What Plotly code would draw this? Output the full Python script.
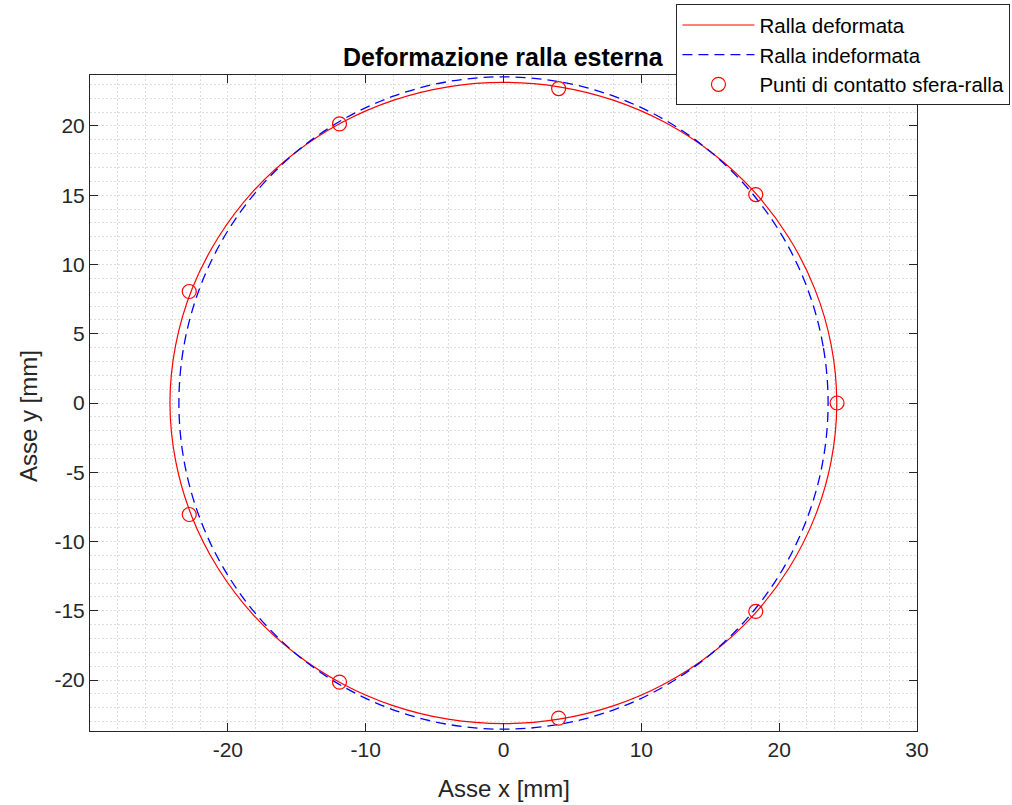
import numpy as np
import plotly.graph_objects as go

# Campionamento angolare della ralla (gradi)
angoli_deg = list(range(0, 360, 10))

# Raggio della ralla deformata a ciascun angolo [mm]
raggio_deformata = [24.18, 24.14, 24.04, 23.90, 23.74, 23.56, 23.40, 23.27, 23.18, 23.15,
                    23.18, 23.27, 23.40, 23.56, 23.74, 23.90, 24.05, 24.15, 24.20, 24.15,
                    24.05, 23.90, 23.74, 23.56, 23.40, 23.27, 23.18, 23.15, 23.18, 23.27,
                    23.40, 23.56, 23.74, 23.90, 24.04, 24.14]

# Raggio nominale della ralla indeformata [mm]
raggio_indeformata = 23.55

# Punti di contatto sfera-ralla [mm]
contatto_x = [24.2, 18.3, 4.0, -11.9, -22.8, -22.8, -11.9, 4.0, 18.3]
contatto_y = [0.0, 15.05, 22.7, 20.15, 8.05, -8.05, -20.15, -22.75, -15.05]

# Tacche degli assi
tick_x = [-20, -10, 0, 10, 20, 30]
tick_x_lab = ["-20", "-10", "0", "10", "20", "30"]
tick_y = [-20, -15, -10, -5, 0, 5, 10, 15, 20]
tick_y_lab = ["-20", "-15", "-10", "-5", "0", "5", "10", "15", "20"]

theta = np.deg2rad(angoli_deg + [360])
r_def = np.array(raggio_deformata + [raggio_deformata[0]])
x_def = r_def * np.cos(theta)
y_def = r_def * np.sin(theta)
x_ind = raggio_indeformata * np.cos(theta)
y_ind = raggio_indeformata * np.sin(theta)

FONT = "Liberation Sans, Arial, Helvetica, sans-serif"
TXT = "#262626"
GRID = "#dedede"

fig = go.Figure()
fig.add_trace(go.Scatter(
    x=x_def, y=y_def, mode="lines", name="Ralla deformata",
    line=dict(color="#ff0000", width=1.2, shape="spline", smoothing=1.0),
    legendgroup="a"))
fig.add_trace(go.Scatter(
    x=x_ind, y=y_ind, mode="lines", name="Ralla indeformata",
    line=dict(color="#0000ff", width=1.3, dash="10px,6px", shape="spline", smoothing=1.0),
    legendgroup="b"))
fig.add_trace(go.Scatter(
    x=contatto_x, y=contatto_y, mode="markers", name="Punti di contatto sfera-ralla",
    marker=dict(symbol="circle-open", size=14, color="#ff0000", line=dict(width=1.2)),
    legendgroup="c"))

grid_style = dict(showgrid=True, gridcolor=GRID, gridwidth=1, griddash="2px,2px")

fig.update_xaxes(
    range=[-30, 30], tickvals=tick_x, ticktext=tick_x_lab,
    ticks="inside", ticklen=8, tickcolor=TXT,
    showline=True, linecolor=TXT, linewidth=1, mirror="ticks", zeroline=False,
    tickfont=dict(family=FONT, size=21, color=TXT),
    minor=dict(dtick=2, tick0=0, showgrid=True, gridcolor=GRID, griddash="2px,2px"),
    **grid_style)
fig.update_yaxes(
    range=[-23.68, 23.68], tickvals=tick_y, ticktext=tick_y_lab,
    ticks="inside", ticklen=8, tickcolor=TXT,
    showline=True, linecolor=TXT, linewidth=1, mirror="ticks", zeroline=False,
    tickfont=dict(family=FONT, size=21, color=TXT),
    minor=dict(dtick=1, tick0=0, showgrid=True, gridcolor=GRID, griddash="2px,2px"),
    **grid_style)

fig.add_annotation(text="<b>Deformazione ralla esterna</b>", x=0.5, y=1.027,
                   xref="paper", yref="paper", xanchor="center", yanchor="middle",
                   showarrow=False, font=dict(family=FONT, size=25, color="#000000"))
fig.add_annotation(text="Asse x [mm]", x=0.5, y=-0.087,
                   xref="paper", yref="paper", xanchor="center", yanchor="middle",
                   showarrow=False, font=dict(family=FONT, size=24, color=TXT))
fig.add_annotation(text="Asse y [mm]", x=-0.075, y=0.48, textangle=-90,
                   xref="paper", yref="paper", xanchor="center", yanchor="middle",
                   showarrow=False, font=dict(family=FONT, size=24, color=TXT))

fig.update_layout(
    width=1012, height=805,
    margin=dict(l=90, r=95, t=75, b=74, autoexpand=False),
    paper_bgcolor="#ffffff", plot_bgcolor="#ffffff",
    font=dict(family=FONT, color=TXT),
    legend=dict(x=1.113, y=1.108, xanchor="right", yanchor="top",
                bgcolor="#ffffff", bordercolor=TXT, borderwidth=1,
                font=dict(family=FONT, size=20.5, color="#000000"),
                itemwidth=72, traceorder="grouped", tracegroupgap=0),
)

fig.write_html("out.html")
